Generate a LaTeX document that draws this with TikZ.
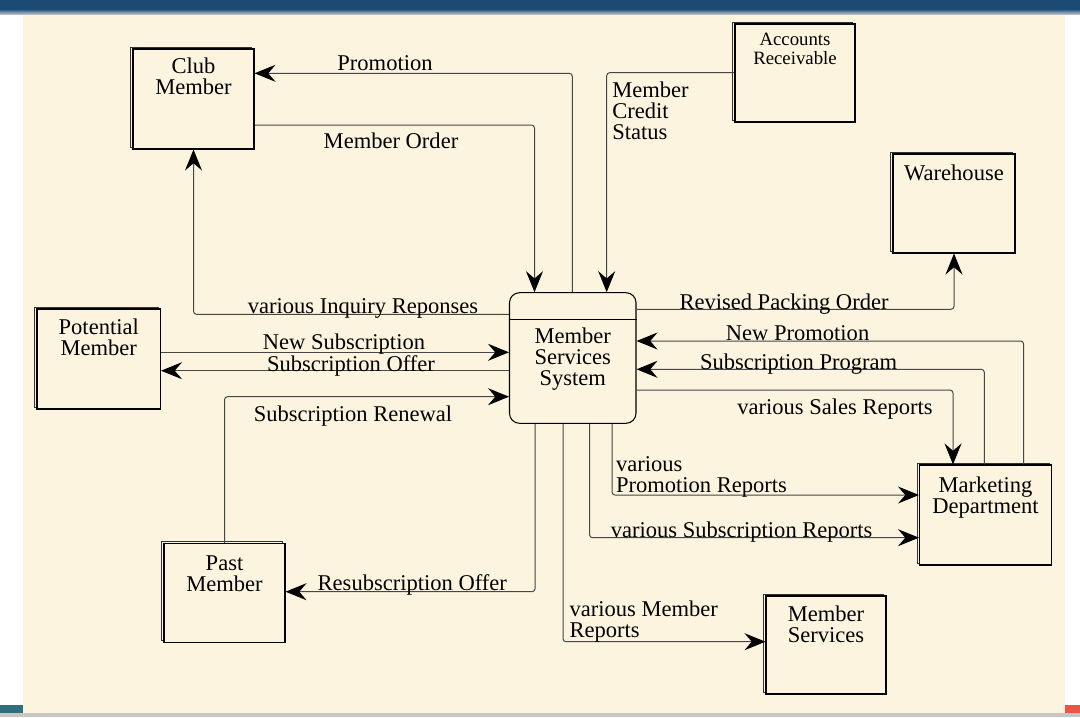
\documentclass[tikz,border=0pt]{standalone}
\usepackage{fontspec}
\setmainfont{Liberation Serif}
\usetikzlibrary{arrows.meta,shadows}
\definecolor{parch}{RGB}{252,244,222}
\definecolor{barblue}{RGB}{27,75,114}
\definecolor{flowgray}{RGB}{70,70,70}
\definecolor{cornerteal}{RGB}{46,112,128}
\definecolor{cornerred}{RGB}{238,84,70}
\newcommand\lblfont{\fontsize{16.9}{15}\selectfont}
\newcommand\smallfnt{\fontsize{14.1}{13.2}\selectfont}
\newcommand\mlines[2][c]{\begin{tabular}[t]{@{}#1@{}}#2\end{tabular}}
\tikzset{
  x=0.75pt, y=-0.75pt,
  ent/.style={draw=black, line width=0.8pt, fill=parch, inner sep=0pt,
    copy shadow={shadow xshift=-1.9pt, shadow yshift=1.5pt, draw=black!80, fill=parch, line width=0.55pt}},
  proc/.style={draw=black, line width=0.8pt, fill=parch, inner sep=0pt, rounded corners=7.5pt},
  flow/.style={draw=flowgray, line width=0.75pt, rounded corners=2.25pt,
    -{Stealth[length=15.75pt, width=12.75pt, inset=5.5pt, black]}},
  lbl/.style={font=\lblfont, inner sep=0pt, anchor=base},
  lblw/.style={font=\lblfont, inner sep=0pt, anchor=base west},
}
\begin{document}
\begin{tikzpicture}
\useasboundingbox (0,0) rectangle (1080,717);
% page background
\fill[white] (0,0) rectangle (1080,717);
\fill[parch] (23,15) rectangle (1065,713);
\fill[barblue] (0,0) rectangle (1080,10.5);
\shade[top color=barblue!80, bottom color=gray!35] (0,10.5) rectangle (1080,15);
\fill[gray!45] (0,713) rectangle (1080,717);
\fill[cornerteal] (0,705) rectangle (23,713);
\fill[cornerred] (1065,705) rectangle (1080,713);

% entities
\node[ent, minimum width=121*0.75pt, minimum height=100*0.75pt] (club) at (193.5,99) {};
\node[ent, minimum width=120*0.75pt, minimum height=98*0.75pt] (ar) at (795,73) {};
\node[ent, minimum width=122*0.75pt, minimum height=99*0.75pt] (wh) at (954,203.5) {};
\node[ent, minimum width=123.5*0.75pt, minimum height=100*0.75pt] (pm) at (98.75,359) {};
\node[proc, minimum width=126.5*0.75pt, minimum height=130.6*0.75pt] (mss) at (572.75,358) {};
\node[ent, minimum width=132*0.75pt, minimum height=100*0.75pt] (mkt) at (985.5,515) {};
\node[ent, minimum width=120*0.75pt, minimum height=98*0.75pt] (ms) at (826,645) {};
\node[ent, minimum width=121*0.75pt, minimum height=99*0.75pt] (past) at (224.5,592.8) {};

% entity texts
\node[lbl] (clubt) at (193.5,73.3) {\mlines{Club\\Member}};
\node[lbl, font=\smallfnt] (art) at (795,45.7) {\mlines{Accounts\\Receivable}};
\node[lbl] (wht) at (954,180) {Warehouse};
\node[lbl] (pmt) at (98.75,334) {\mlines{Potential\\Member}};
\node[lbl] (msst) at (572.75,343.3) {\mlines{Member\\Services\\System}};
\node[lbl] (mktt) at (985.5,492.7) {\mlines{Marketing\\Department}};
\node[lbl] (mst) at (826,621.7) {\mlines{Member\\Services}};
\node[lbl] (pastt) at (224.5,570) {\mlines{Past\\Member}};

% divider in process box
\coordinate (cDiv) at (0,319);
\draw[draw=black, line width=0.7pt] (mss.west |- cDiv) -- (mss.east |- cDiv);

% connector helper coordinates
\coordinate (cProm) at (572.3,73.3);
\coordinate (cOrd) at (534.5,125);
\coordinate (cCred) at (606.7,72.7);
\coordinate (cInq) at (193.5,314.3);
\coordinate (cNS) at (0,352.3);
\coordinate (cSO) at (0,370.7);
\coordinate (cRen) at (224.5,396.7);
\coordinate (cRes) at (535,591.7);
\coordinate (cPack) at (954,309.3);
\coordinate (cNP) at (1023.6,341);
\coordinate (cSP) at (984.3,369.3);
\coordinate (cSales) at (953,390);
\coordinate (cPR) at (612,495);
\coordinate (cSR) at (589.5,537.7);
\coordinate (cMR) at (563,641.7);

% connectors
\draw[flow] (cProm |- mss.north) |- (club.east |- cProm);
\draw[flow] (club.east |- cOrd) -| (cOrd |- mss.north);
\draw[flow] (ar.west |- cCred) -| (cCred |- mss.north);
\draw[flow] (mss.west |- cInq) -| (club.south);
\draw[flow] (pm.east |- cNS) -- (mss.west |- cNS);
\draw[flow] (mss.west |- cSO) -- (pm.east |- cSO);
\draw[flow] (past.north) |- (mss.west |- cRen);
\draw[flow] (cRes |- mss.south) |- (past.east |- cRes);
\draw[flow] (mss.east |- cPack) -| (wh.south);
\draw[flow] (mkt.north -| cNP) |- (mss.east |- cNP);
\draw[flow] (mkt.north -| cSP) |- (mss.east |- cSP);
\draw[flow] (mss.east |- cSales) -| (mkt.north -| cSales);
\draw[flow] (cPR |- mss.south) |- (mkt.west |- cPR);
\draw[flow] (cSR |- mss.south) |- (mkt.west |- cSR);
\draw[flow] (cMR |- mss.south) |- (ms.west |- cMR);

% flow labels
\node[lbl] (lProm) at (385,70.7) {Promotion};
\node[lbl] (lOrd) at (391,148.3) {Member Order};
\node[lblw] (lCred) at (612,97.3) {\mlines[l]{Member\\Credit\\Status}};
\node[lbl] (lInq) at (363,313.3) {various Inquiry Reponses};
\node[lbl] (lNS) at (344,349.5) {New Subscription};
\node[lbl] (lSO) at (351,371.5) {Subscription Offer};
\node[lbl] (lRen) at (353,421) {Subscription Renewal};
\node[lbl] (lPack) at (784,309.3) {Revised Packing Order};
\node[lbl] (lNP) at (797.6,340) {New Promotion};
\node[lbl] (lSP) at (798.6,369.3) {Subscription Program};
\node[lbl] (lSales) at (835,414.3) {various Sales Reports};
\node[lblw] (lPR) at (615.8,471.7) {\mlines[l]{various\\Promotion Reports}};
\node[lblw] (lSR) at (610.6,537.7) {various Subscription Reports};
\node[lblw] (lMR) at (569.3,616.7) {\mlines[l]{various Member\\Reports}};
\node[lbl] (lRes) at (412.3,590.7) {Resubscription Offer};
\end{tikzpicture}
\end{document}
